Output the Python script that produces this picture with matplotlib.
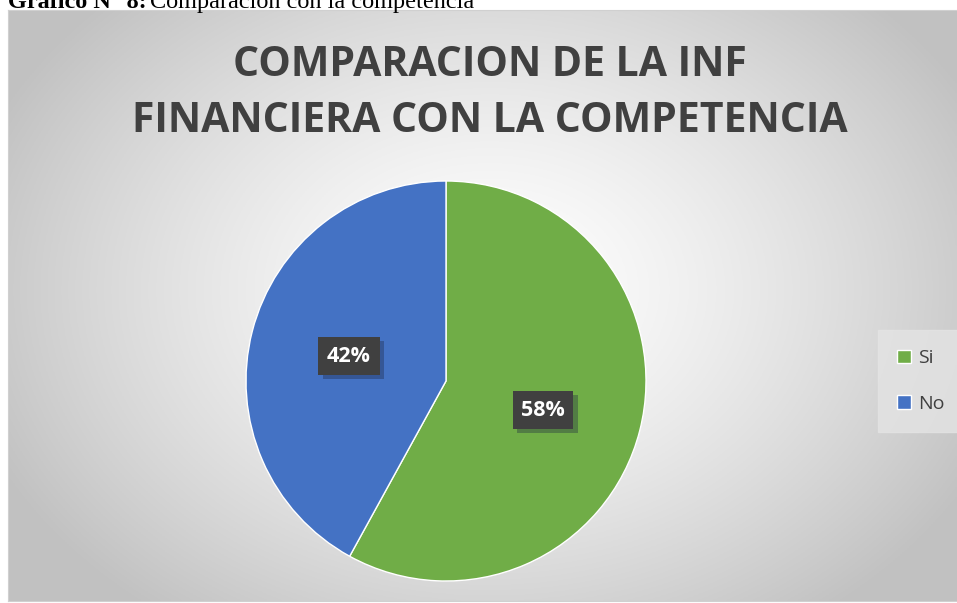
import numpy as np
import matplotlib
matplotlib.use("Agg")
from matplotlib import pyplot as plt
from matplotlib import patheffects as pe

labels = ["Si", "No"]
shares = [58, 42]
colors = ["#70AD47", "#4472C4"]

W, H = 957, 603
fig = plt.figure(figsize=(W / 100, H / 100), dpi=100)
fig.patch.set_facecolor("white")

# chart area with radial gradient
x0, y0, x1, y1 = 8, 10, 957, 601
bg = fig.add_axes([x0 / W, 1 - y1 / H, (x1 - x0) / W, (y1 - y0) / H])
gx, gy = np.meshgrid(np.linspace(x0, x1, 400), np.linspace(y0, y1, 300))
d = np.hypot((gx - 490) / 560, (gy - 290) / 420)
shade = np.clip(1.0 - 0.25 * d ** 1.4, 0.76, 1.0)
bg.imshow(np.dstack([shade, shade, shade]), aspect="auto", extent=[0, 1, 0, 1])
bg.set_xticks([])
bg.set_yticks([])
for s in bg.spines.values():
    s.set_color("#d0d0d0")

# caption above the chart, cut by the top edge
cap = fig.text(8 / W, 1 - 8 / H, "Gráfico N° 8:", family="Liberation Serif",
               weight="bold", fontsize=17.5, va="baseline", color="black")
fig.canvas.draw()
ext = cap.get_window_extent()
fig.text(ext.x1 / W + 0.004, 1 - 8 / H, "Comparación con la competencia",
         family="Liberation Serif", fontsize=17.5, va="baseline", color="black")

fig.text(490 / W, 1 - 65 / H, "COMPARACION DE LA INF", family="Open Sans",
         weight="bold", fontsize=29.5, color="#404040", ha="center", va="center")
fig.text(490 / W, 1 - 122 / H, "FINANCIERA CON LA COMPETENCIA", family="Open Sans",
         weight="bold", fontsize=29.5, color="#404040", ha="center", va="center")

# pie
cx, cy, r = 446, 381, 200
ax = fig.add_axes([(cx - r) / W, 1 - (cy + r) / H, 2 * r / W, 2 * r / H])
wedges, _ = ax.pie(shares, colors=colors, startangle=90, counterclock=False,
                   radius=1.0, wedgeprops=dict(linewidth=1, edgecolor="white"))
ax.set_xlim(-1, 1)
ax.set_ylim(-1, 1)
ax.set_aspect("auto")

label_pos = [(543, 410), (349, 356)]
for (px, py), val in zip(label_pos, shares):
    xx = (px - cx) / r
    yy = -(py - cy) / r
    t = ax.text(xx, yy, f"{val}%", fontsize=15.5, weight="bold", color="white",
                family="Open Sans", ha="center", va="center",
                bbox=dict(boxstyle="square,pad=0.4", fc="#404040", ec="none"))
    t.get_bbox_patch().set_path_effects([
        pe.SimplePatchShadow(offset=(3, -3), shadow_rgbFace="#1a2440", alpha=0.35),
        pe.Normal()])

leg = fig.legend(wedges, labels, loc="center", bbox_to_anchor=(921 / W, 1 - 381 / H),
                 frameon=True, handlelength=0.7, handleheight=0.7,
                 labelspacing=1.4, handletextpad=0.4, borderpad=0.7,
                 prop=dict(family="Open Sans", size=14))
leg.get_frame().set_facecolor("#e4e4e4")
leg.get_frame().set_edgecolor("#e4e4e4")
leg.get_frame().set_boxstyle("square")
for t in leg.get_texts():
    t.set_color("#404040")

fig.savefig("out.png", dpi=100)
